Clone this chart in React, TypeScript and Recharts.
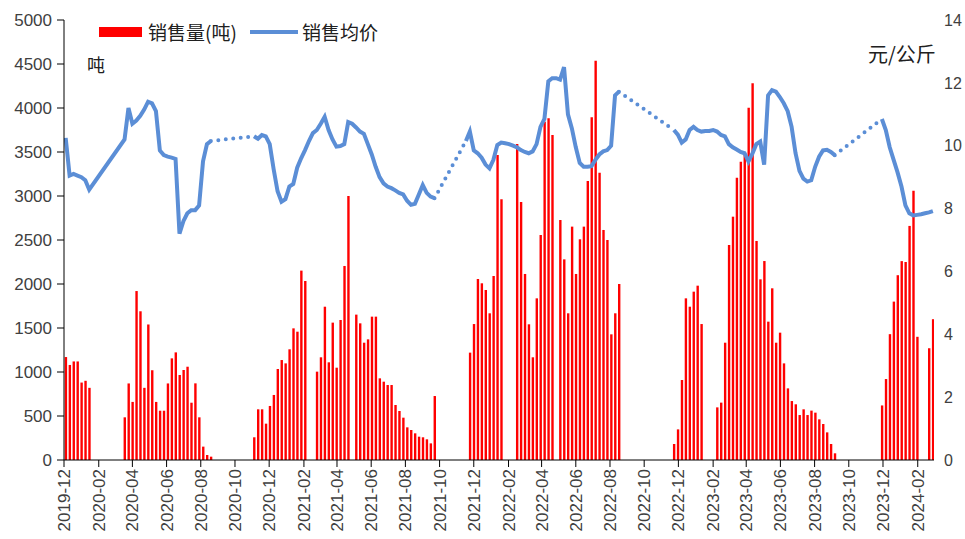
import { Bar, ComposedChart, Line, XAxis, YAxis } from "recharts";

const DAY = 24 * 60 * 60 * 1000;
const RED = "#FF0000";
const BLUE = "#5B8ED6";
const NUM_FONT = '"Liberation Sans", Arial, sans-serif';
const CJK_FONT = '"Noto Sans CJK SC", "Noto Sans", sans-serif';
const LABEL = "#404040";

// 横轴刻度（每两个月一个）
const X_TICKS = [
  "2019-12", "2020-02", "2020-04", "2020-06", "2020-08", "2020-10",
  "2020-12", "2021-02", "2021-04", "2021-06", "2021-08", "2021-10",
  "2021-12", "2022-02", "2022-04", "2022-06", "2022-08", "2022-10",
  "2022-12", "2023-02", "2023-04", "2023-06", "2023-08", "2023-10",
  "2023-12", "2024-02",
];
const LEFT_TICKS = [0, 500, 1000, 1500, 2000, 2500, 3000, 3500, 4000, 4500, 5000];
const RIGHT_TICKS = [0, 2, 4, 6, 8, 10, 12, 14];
const X_START = "2019-12-01";
const X_END = "2024-03-01";

// 销售量（吨），按周，每季从起始周开始
const SALES_2019 = [1170, 1080, 1120, 1120, 880, 900, 820];
const SALES_2020 = [
  485, 870, 660, 1920, 1690, 820, 1540, 1020, 660, 560, 560, 870,
  1155, 1223, 966, 1023, 1060, 651, 871, 485, 152, 57, 38,
];
const SALES_2021 = [
  258, 576, 576, 413, 614, 739, 1034, 1136, 1098, 1258, 1496, 1458, 2152, 2034,
  null, null, 1004, 1167, 1742, 1110, 1561, 1049, 1591, 2205, 3000, null,
  1652, 1553, 1333, 1371, 1629, 1629, 928, 890, 852, 852, 625, 557, 481, 371,
  341, 303, 265, 258, 235, 189, 727,
];
const SALES_2022 = [
  1220, 1545, 2057, 2008, 1932, 1667, 2091, 3466, 2962, null, null, null,
  3591, 2932, 2114, 1542, 1167, 1837, 2557, 3845, 3883, 3693, null,
  2727, 2280, 1667, 2652, 2114, 2508, 2652, 3171, 3894, 4538, 3265, 2614,
  2500, 1428, 1667, 2000,
];
const SALES_2023 = [
  182, 348, 909, 1837, 1742, 1913, 1981, 1545, null, null, null,
  598, 652, 1333, 2443, 2765, 3208, 3390, 3466, 4004, 4280, 2489, 2053, 2261,
  1572, 1951, 1333, 1447, 1098, 814, 670, 633, 511, 576, 511, 561, 538, 462,
  409, 314, 182, 76,
];
const SALES_2024 = [620, 920, 1430, 1800, 2100, 2260, 2250, 2660, 3060, 1400, null, null, 1270, 1600];

const SALES_STARTS = ["2019-12-04", "2020-03-18", "2020-11-04", "2021-11-24", "2022-11-23", "2023-11-29"];
const SALES_SEASONS = [SALES_2019, SALES_2020, SALES_2021, SALES_2022, SALES_2023, SALES_2024];

// 销售均价（元/公斤），按周；实线段之间用虚线连接
const PRICE_A = [
  10.25, 9.05, 9.1, 9.05, 9.0, 8.9, 8.6,
  null, null, null, null, null, null, null, null,
  10.2, 11.2, 10.7, 10.8, 10.95, 11.15, 11.4, 11.35, 11.1, 9.85, 9.7, 9.65,
  9.62, 9.58, 7.2, 7.6, 7.85, 7.95, 7.95, 8.1, 9.5, 10.05, 10.15,
];
const PRICE_B = [
  10.3, 10.22, 10.34, 10.3, 10.05, 9.25, 8.55, 8.22, 8.3, 8.7, 8.78, 9.3, 9.6,
  9.86, 10.15, 10.4, 10.5, 10.7, 10.92, 10.5, 10.2, 9.97, 9.99, 10.05, 10.75,
  10.7, 10.58, 10.45, 10.38, 10.05, 9.72, 9.33, 9.0, 8.8, 8.7, 8.65, 8.58, 8.5,
  8.45, 8.25, 8.12, 8.15, 8.45, 8.75, 8.5, 8.38, 8.33,
];
const PRICE_C = [
  10.15, 10.45, 9.85, 9.76, 9.62, 9.4, 9.28, 9.55, 10.02, 10.1, 10.08, 10.05,
  10.0, 9.95, 9.86, 9.8, 9.76, 9.82, 10.05, 10.6, 10.85, 12.05, 12.15, 12.15,
  12.1, 12.5, 11.0, 10.55, 9.95, 9.45, 9.33, 9.33, 9.35, 9.55, 9.72, 9.82,
  9.86, 10.0, 11.6, 11.72,
];
const PRICE_D = [
  10.5, 10.35, 10.1, 10.2, 10.5, 10.6, 10.5, 10.45, 10.47, 10.47, 10.5, 10.45,
  10.34, 10.3, 10.05, 9.95, 9.88, 9.8, 9.76, 9.5, 9.75, 10.05, 10.13, 9.4,
  11.6, 11.77, 11.72, 11.55, 11.35, 11.1, 10.6, 9.76, 9.2, 8.95, 8.86, 8.9,
  9.33, 9.65, 9.85, 9.87, 9.8, 9.7,
];
const PRICE_E = [10.85, 10.5, 9.95, 9.55, 9.15, 8.7, 8.1, 7.85, 7.78, 7.8, 7.82, 7.85, 7.88, 7.92];

const PRICE_STARTS = ["2019-12-04", "2020-11-04", "2021-11-17", "2022-11-23", "2023-11-29"];
const PRICE_SEGMENTS = [PRICE_A, PRICE_B, PRICE_C, PRICE_D, PRICE_E];

type Pt = { t: number; v: number | null };

function weekly(start: string, values: (number | null)[]): Pt[] {
  const t0 = Date.parse(start);
  return values.map((v, i) => ({ t: t0 + i * 7 * DAY, v }));
}

const salesData = SALES_SEASONS.flatMap((vals, i) =>
  weekly(SALES_STARTS[i], vals).map((p) => ({ t: p.t, sales: p.v })),
);
const priceSegments = PRICE_SEGMENTS.map((vals, i) => weekly(PRICE_STARTS[i], vals));
// 虚线：连接相邻两段实线的端点
const gapSegments = priceSegments.slice(1).map((seg, i) => {
  const prev = priceSegments[i];
  return [prev[prev.length - 1], seg[0]];
});

const tickValues = X_TICKS.map((m) => Date.parse(m + "-01"));
const tickLabel = new Map(tickValues.map((v, i) => [v, X_TICKS[i]]));

function DateTick({ x, y, payload }: any) {
  return (
    <g transform={`translate(${x + 6},${y})`}>
      <text
        transform="rotate(-90)"
        textAnchor="end"
        fill={LABEL}
        fontSize={17}
        fontFamily={NUM_FONT}
      >
        {tickLabel.get(payload.value)}
      </text>
    </g>
  );
}

export default function App() {
  return (
    <div style={{ position: "absolute", left: 0, top: 0, width: 965, height: 539, background: "#fff" }}>
      <ComposedChart
        width={965}
        height={539}
        data={salesData}
        margin={{ top: 20, right: 0, bottom: 0, left: 0 }}
      >
        <XAxis
          dataKey="t"
          type="number"
          domain={[Date.parse(X_START), Date.parse(X_END)]}
          allowDataOverflow
          ticks={tickValues}
          interval={0}
          tick={<DateTick />}
          tickSize={7}
          tickMargin={2}
          height={79}
          stroke="#000"
        />
        <YAxis
          yAxisId="left"
          domain={[0, 5000]}
          ticks={LEFT_TICKS}
          interval={0}
          width={64}
          tickSize={7}
          tickMargin={5}
          stroke="#000"
          tick={{ fill: LABEL, fontSize: 17, fontFamily: NUM_FONT }}
        />
        <YAxis
          yAxisId="right"
          orientation="right"
          domain={[0, 14]}
          ticks={RIGHT_TICKS}
          interval={0}
          width={31}
          axisLine={false}
          tickLine={false}
          tickSize={0}
          tickMargin={10}
          tick={{ fill: LABEL, fontSize: 16, fontFamily: NUM_FONT }}
        />
        <Bar
          yAxisId="left"
          dataKey="sales"
          fill={RED}
          barSize={2.4}
          isAnimationActive={false}
        />
        {priceSegments.map((seg, i) => (
          <Line
            key={`p${i}`}
            yAxisId="right"
            data={seg}
            dataKey="v"
            stroke={BLUE}
            strokeWidth={4}
            dot={false}
            connectNulls
            isAnimationActive={false}
          />
        ))}
        {gapSegments.map((seg, i) => (
          <Line
            key={`g${i}`}
            yAxisId="right"
            data={seg}
            dataKey="v"
            stroke={BLUE}
            strokeWidth={4}
            strokeDasharray="0 7.5"
            strokeLinecap="round"
            dot={false}
            isAnimationActive={false}
          />
        ))}
      </ComposedChart>

      <div style={{ position: "absolute", left: 99, top: 27, width: 43, height: 10, background: RED }} />
      <div style={{ position: "absolute", left: 148, top: 19, fontFamily: CJK_FONT, fontSize: 19, lineHeight: "26px", color: "#202020" }}>
        销售量(吨)
      </div>
      <div style={{ position: "absolute", left: 250, top: 30, width: 48, height: 4, background: BLUE }} />
      <div style={{ position: "absolute", left: 302, top: 19, fontFamily: CJK_FONT, fontSize: 19, lineHeight: "26px", color: "#202020" }}>
        销售均价
      </div>
      <div style={{ position: "absolute", left: 87, top: 52, fontFamily: CJK_FONT, fontSize: 18, lineHeight: "24px", color: "#202020" }}>
        吨
      </div>
      <div style={{ position: "absolute", left: 868, top: 41, fontFamily: CJK_FONT, fontSize: 20, lineHeight: "26px", color: "#202020" }}>
        元/公斤
      </div>
    </div>
  );
}
